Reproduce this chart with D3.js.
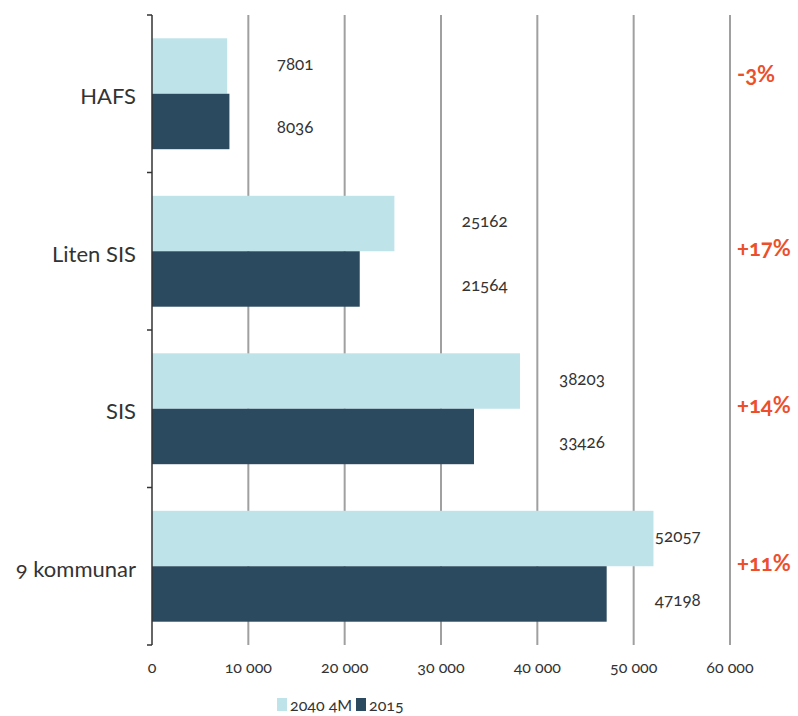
<!DOCTYPE html>
<html>
<head>
<meta charset="utf-8">
<script src="https://cdn.jsdelivr.net/npm/d3@7"></script>
<style>
	body { margin: 0; background: #fff; }
	text { font-family: Lato, "Open Sans", sans-serif; font-feature-settings: "onum"; fill: #333; }
</style>
</head>
<body>
<div id="chart"></div>
<script>
var categories = ["HAFS", "Liten SIS", "SIS", "9 kommunar"];
var series = ["2040 4M", "2015"];
var values2040 = [7801, 25162, 38203, 52057];
var values2015 = [8036, 21564, 33426, 47198];
var changes = ["-3%", "+17%", "+14%", "+11%"];
var ticks = [0, 10000, 20000, 30000, 40000, 50000, 60000];

var colors = {"2040 4M": "#bee4ea", "2015": "#2c4a5f"};
var width = 798, height = 716;
var margin = {top: 15, left: 152, right: 68, bottom: 71};

// where the value labels start, in axis units (as in the reference)
var labelAt = [12950, 32150, 42250, 52200];

var svg = d3.select("#chart").append("svg")
	.attr("width", width)
	.attr("height", height);

var x = d3.scaleLinear()
	.domain([0, 60000])
	.range([margin.left, width - margin.right]);

var y = d3.scaleBand()
	.domain(categories)
	.range([margin.top, height - margin.bottom])
	.paddingInner(0)
	.paddingOuter(0);

var inner = d3.scaleBand()
	.domain(series)
	.range([0, y.bandwidth()])
	.paddingOuter(0.42)
	.paddingInner(0);

// grid lines
svg.selectAll(".grid")
	.data(ticks.slice(1))
	.enter()
		.append("line")
		.attr("x1", function(d) { return x(d); })
		.attr("x2", function(d) { return x(d); })
		.attr("y1", margin.top)
		.attr("y2", height - margin.bottom)
		.attr("stroke", "#a0a0a0")
		.attr("stroke-width", 2);

var rows = categories.map(function(c, i) {
	return {cat: c, i: i, vals: [values2040[i], values2015[i]]};
});

var group = svg.selectAll(".group")
	.data(rows)
	.enter()
		.append("g")
		.attr("transform", function(d) { return "translate(0," + y(d.cat) + ")"; });

group.selectAll("rect")
	.data(function(d) { return d.vals.map(function(v, j) { return {s: series[j], v: v}; }); })
	.enter()
		.append("rect")
		.attr("x", x(0))
		.attr("y", function(d) { return inner(d.s); })
		.attr("width", function(d) { return x(d.v) - x(0); })
		.attr("height", inner.bandwidth())
		.attr("fill", function(d) { return colors[d.s]; });

group.selectAll(".val")
	.data(function(d) { return d.vals.map(function(v, j) { return {s: series[j], v: v, i: d.i}; }); })
	.enter()
		.append("text")
		.attr("x", function(d) { return x(labelAt[d.i]); })
		.attr("y", function(d) { return inner(d.s) + inner.bandwidth() / 2 + (d.s == "2015" ? 6 : -2); })
		.attr("dy", ".35em")
		.attr("text-anchor", "start")
		.style("font-size", "17px")
		.text(function(d) { return d.v; });

group.append("text")
	.attr("x", 136)
	.attr("y", y.bandwidth() / 2 + 3)
	.attr("dy", ".35em")
	.attr("text-anchor", "end")
	.style("font-size", "22px")
	.text(function(d) { return d.cat; });

group.append("text")
	.attr("x", 737)
	.attr("y", function(d) { return d.i == 0 ? y.bandwidth() / 2 - 19 : y.bandwidth() / 2 - 3; })
	.attr("dy", ".35em")
	.style("font-size", "22px")
	.style("font-weight", "bold")
	.style("fill", "#ec4f2c")
	.text(function(d) { return changes[d.i]; });

// left axis
var yEdges = categories.map(function(c) { return y(c); }).concat([height - margin.bottom]);
svg.append("line")
	.attr("x1", x(0)).attr("x2", x(0))
	.attr("y1", margin.top).attr("y2", height - margin.bottom)
	.attr("stroke", "#333").attr("stroke-width", 1.5);
svg.selectAll(".ytick")
	.data(yEdges)
	.enter()
		.append("line")
		.attr("x1", x(0) - 5).attr("x2", x(0))
		.attr("y1", function(d) { return d; }).attr("y2", function(d) { return d; })
		.attr("stroke", "#333").attr("stroke-width", 1.5);

// tick labels
var fmt = function(d) { return d == 0 ? "0" : d3.format(",")(d).replace(/,/g, " "); };
svg.selectAll(".xlab")
	.data(ticks)
	.enter()
		.append("text")
		.attr("x", function(d) { return x(d); })
		.attr("y", 667)
		.attr("dy", ".35em")
		.attr("text-anchor", "middle")
		.style("font-size", "16px")
		.text(fmt);

// legend
var legend = svg.append("g").attr("transform", "translate(277,698)");
var lx = [0, 79];
series.forEach(function(s, i) {
	legend.append("rect")
		.attr("x", lx[i]).attr("y", 0)
		.attr("width", 10).attr("height", 13)
		.attr("fill", colors[s]);
	legend.append("text")
		.attr("x", lx[i] + 13).attr("y", 7)
		.attr("dy", ".35em")
		.style("font-size", "16px")
		.text(s);
});
</script>
</body>
</html>
